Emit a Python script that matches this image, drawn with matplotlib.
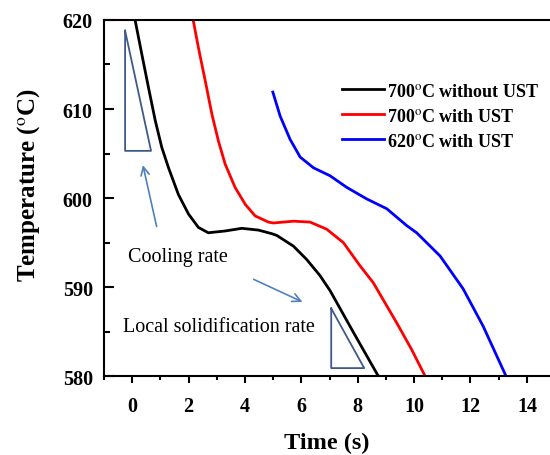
import matplotlib
matplotlib.use('Agg')
from matplotlib import pyplot as plt
from matplotlib.ticker import MultipleLocator

plt.rcParams['font.family'] = 'Liberation Serif'
plt.rcParams['mathtext.fontset'] = 'stix'

# 700 C without UST
t_black = [0.11, 0.34, 0.58, 0.82, 1.05, 1.29, 1.64, 2.0, 2.35, 2.7, 3.3, 3.89, 4.48, 4.95,
           5.13, 5.72, 6.19, 6.66, 7.02, 7.85, 8.73]
T_black = [619.9, 616.2, 612.4, 608.7, 605.7, 603.4, 600.4, 598.2, 596.7, 596.1, 596.3, 596.6, 596.4, 596.0,
           595.8, 594.6, 593.1, 591.3, 589.6, 584.9, 580.0]
# 700 C with UST
t_red = [2.17, 2.35, 2.59, 2.83, 3.06, 3.3, 3.65, 4.01, 4.36, 4.83, 5.01, 5.72, 6.31, 6.9,
         7.49, 8.08, 8.55, 9.38, 9.91, 10.39]
T_red = [619.9, 616.9, 613.2, 609.4, 606.4, 603.8, 601.2, 599.3, 598.0, 597.3, 597.2, 597.4, 597.3, 596.5,
         595.0, 592.4, 590.5, 586.0, 583.0, 580.0]
# 620 C with UST
t_blue = [4.99, 5.25, 5.6, 5.96, 6.43, 7.02, 7.61, 8.32, 9.03, 9.74, 10.09, 10.92, 11.74, 12.45, 13.26]
T_blue = [611.9, 609.2, 606.6, 604.6, 603.4, 602.5, 601.2, 599.9, 598.8, 596.9, 596.1, 593.5, 589.8, 585.6, 580.0]

labels = [r'700$^{\rm o}$C without UST', r'700$^{\rm o}$C with UST', r'620$^{\rm o}$C with UST']

# rate triangles
tri1_t = [-0.25, -0.25, 0.67, -0.25]
tri1_T = [618.8, 605.3, 605.3, 618.8]
tri2_t = [7.06, 7.06, 8.23, 7.06]
tri2_T = [587.6, 580.9, 580.9, 587.6]

fig = plt.figure(figsize=(5.5, 4.56), dpi=100)
ax = fig.add_axes([0.189, 0.173, 0.811, 0.781])

ax.plot(t_black, T_black, color='black', lw=2, label=labels[0])
ax.plot(t_red, T_red, color='red', lw=2, label=labels[1])
ax.plot(t_blue, T_blue, color='blue', lw=2, label=labels[2])

ax.plot(tri1_t, tri1_T, color='#3F5A8A', lw=1.3)
ax.plot(tri2_t, tri2_T, color='#3F5A8A', lw=1.3)

ax.annotate('', xy=(0.36, 604.0), xytext=(0.89, 596.5),
            arrowprops=dict(arrowstyle='->', color='#4F81BD', lw=1.2, mutation_scale=15))
ax.annotate('', xy=(6.13, 588.2), xytext=(4.22, 591.0),
            arrowprops=dict(arrowstyle='->', color='#4F81BD', lw=1.2, mutation_scale=15))

ax.text(-0.14, 593.4, 'Cooling rate', fontsize=14.5, va='center')
ax.text(-0.32, 585.6, 'Local solidification rate', fontsize=14.5, va='center')

ax.set_xlim(-1, 14.82)
ax.set_ylim(580, 620)
ax.xaxis.set_major_locator(MultipleLocator(2))
ax.xaxis.set_minor_locator(MultipleLocator(1))
ax.yaxis.set_major_locator(MultipleLocator(10))
ax.yaxis.set_minor_locator(MultipleLocator(5))

ax.tick_params(axis='y', which='major', direction='in', length=7, width=1.5, labelsize=14.5, pad=8)
ax.tick_params(axis='y', which='minor', direction='in', length=4, width=1.5)
ax.tick_params(axis='x', which='major', direction='out', length=5, width=1.5, labelsize=14.5, pad=9)
ax.tick_params(axis='x', which='minor', direction='out', length=3, width=1.5)
for lab in ax.get_xticklabels() + ax.get_yticklabels():
    lab.set_fontweight('bold')

for side in ['left', 'bottom', 'top']:
    ax.spines[side].set_linewidth(1.5)
ax.spines['right'].set_visible(False)

ax.set_xlabel('Time (s)', fontsize=17.5, fontweight='bold', labelpad=12)
ax.set_ylabel(r'Temperature ($^{\rm o}$C)', fontsize=18, fontweight='bold')
ax.yaxis.set_label_coords(-0.14, 0.54)

ax.legend(loc='upper right', bbox_to_anchor=(1.013, 0.87), frameon=False,
          prop={'weight': 'bold', 'size': 13}, handlelength=2.3, handletextpad=0.2,
          labelspacing=0.45)

fig.savefig('out.png', dpi=100)
